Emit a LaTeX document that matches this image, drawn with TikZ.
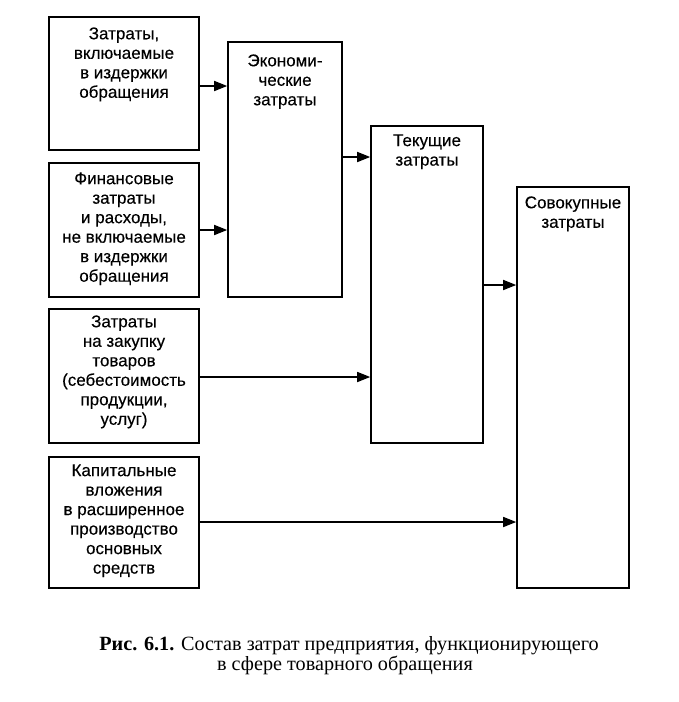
\documentclass[tikz,border=0pt]{standalone}
\usepackage{fontspec}
\setmainfont{Liberation Serif}
\newfontfamily\boxfont{Liberation Sans}[FakeBold=0.3]
\usetikzlibrary{arrows.meta,calc}
\begin{document}
\begin{tikzpicture}[x=1pt,y=-1pt,
  box/.style={draw,line width=1.6pt,inner sep=0pt},
  boxtext/.style={anchor=north,align=center,inner sep=0pt,
    font=\boxfont\fontsize{17}{19.5}\selectfont},
  arr/.style={line width=1.6pt,-{Triangle[length=13pt,width=10pt]}},
  captext/.style={anchor=base,inner sep=0pt,
    font=\fontsize{20.2}{20}\selectfont}]
\useasboundingbox (0,0) rectangle (678,702);
% boxes
\node[box,minimum width=150pt,minimum height=133pt] (A) at (124,83.5) {};
\node[box,minimum width=150pt,minimum height=134pt] (B) at (124,230) {};
\node[box,minimum width=150pt,minimum height=134pt] (C) at (124,376) {};
\node[box,minimum width=150pt,minimum height=131pt] (D) at (124,522.5) {};
\node[box,minimum width=114pt,minimum height=255pt] (E) at (285,169.5) {};
\node[box,minimum width=112pt,minimum height=317pt] (T) at (427,284.5) {};
\node[box,minimum width=112pt,minimum height=401pt] (S) at (573,387.5) {};
% texts
\node[boxtext] (tA) at ($(A.north)+(0,11)$) {Затраты,\\включаемые\\в издержки\\обращения};
\node[boxtext] (tB) at ($(B.north)+(0,10)$) {Финансовые\\затраты\\и расходы,\\не включаемые\\в издержки\\обращения};
\node[boxtext] (tC) at ($(C.north)+(0,7)$) {Затраты\\на закупку\\товаров\\(себестоимость\\продукции,\\услуг)};
\node[boxtext] (tD) at ($(D.north)+(0,8)$) {Капитальные\\вложения\\в расширенное\\производство\\основных\\средств};
\node[boxtext] (tE) at ($(E.north)+(0,13)$) {Экономи-\\ческие\\затраты};
\node[boxtext] (tT) at ($(T.north)+(0,9)$) {Текущие\\затраты};
\node[boxtext] (tS) at ($(S.north)+(0,10)$) {Совокупные\\затраты};
% arrow levels
\coordinate (yAE) at (0,86);
\coordinate (yBE) at (0,230);
\coordinate (yET) at (0,157);
\coordinate (yCT) at (0,377);
\coordinate (yTS) at (0,285);
\coordinate (yDS) at (0,522);
\draw[arr] (A.east |- yAE) -- (E.west |- yAE);
\draw[arr] (B.east |- yBE) -- (E.west |- yBE);
\draw[arr] (E.east |- yET) -- (T.west |- yET);
\draw[arr] (C.east |- yCT) -- (T.west |- yCT);
\draw[arr] (T.east |- yTS) -- (S.west |- yTS);
\draw[arr] (D.east |- yDS) -- (S.west |- yDS);
% caption
\node[captext] (cap1) at (349,650) {\textbf{Рис. 6.1.} Состав затрат предприятия, функционирующего};
\node[captext] (cap2) at (345,670) {в сфере товарного обращения};
\end{tikzpicture}
\end{document}
